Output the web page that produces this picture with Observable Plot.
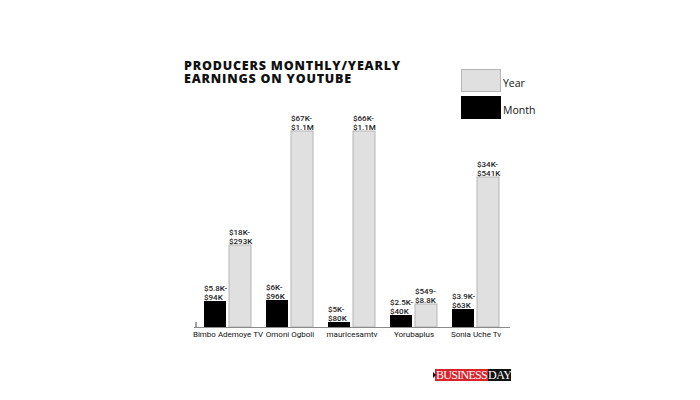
<!DOCTYPE html>
<html><head><meta charset="utf-8">
<script src="https://cdn.jsdelivr.net/npm/d3@7"></script>
<script src="https://cdn.jsdelivr.net/npm/@observablehq/plot@0.6"></script>
<style>
body{margin:0;background:#fff;}
#wrap{position:relative;width:700px;height:400px;overflow:hidden;background:#fff;}
#chart{position:absolute;left:0;top:0;}
.abs{position:absolute;white-space:nowrap;}
.title{left:184px;font-family:"Open Sans";font-weight:800;font-size:12.5px;line-height:12.5px;height:12.5px;color:#111;letter-spacing:0.8px;}
.sw{width:40px;height:23px;box-sizing:border-box;}
.lg{font-family:"Open Sans";font-size:10.5px;line-height:10.5px;color:#111;}
.logo{font-family:"Liberation Serif";font-size:12px;line-height:12px;color:#fff;height:12px;}
</style></head>
<body><div id="wrap">
<div id="chart"></div>
<div class="abs title" style="top:60px;">PRODUCERS MONTHLY/YEARLY</div>
<div class="abs title" style="top:73px;">EARNINGS ON YOUTUBE</div>
<div class="abs sw" style="left:461px;top:69px;background:#e0e0e0;border:1px solid #b5b5b5;"></div>
<div class="abs lg" style="left:503px;top:78px;">Year</div>
<div class="abs sw" style="left:461px;top:96px;background:#000;"></div>
<div class="abs lg" style="left:503px;top:105px;">Month</div>
<div class="abs logo" style="left:435px;top:369px;width:53px;background:#d9232a;text-align:center;letter-spacing:-0.7px;">BUSINESS</div>
<div class="abs logo" style="left:488px;top:369px;width:23px;background:#111;text-align:center;letter-spacing:-0.5px;">DAY</div>
<div class="abs" style="left:433px;top:372px;width:0;height:0;border-top:3px solid transparent;border-bottom:3px solid transparent;border-left:3px solid #111;"></div>
</div>
<script>
const channels = ["Bimbo Ademoye TV", "Omoni Ogboli", "mauricesamtv", "Yorubaplus", "Sonia Uche Tv"];
const monthLabels = ["$5.8K-\n$94K", "$6K-\n$96K", "$5K-\n$80K", "$2.5K-\n$40K", "$3.9K-\n$63K"];
const yearLabels = ["$18K-\n$293K", "$67K-\n$1.1M", "$66K-\n$1.1M", "$549-\n$8.8K", "$34K-\n$541K"];
// bar heights as drawn in the picture (relative units)
const monthBar = [26, 27, 5, 12, 18];
const yearBar = [82, 196, 196, 23, 150];

const monthData = channels.map((c, i) => ({channel: c, value: monthBar[i], label: monthLabels[i]}));
const yearData = channels.map((c, i) => ({channel: c, value: yearBar[i], label: yearLabels[i]}));

const labelStyle = {fontSize: 8, fontFamily: "Roboto", fontWeight: 500, fill: "#222", lineHeight: 1.05, textAnchor: "start", lineAnchor: "bottom"};

const chart = Plot.plot({
  width: 700,
  height: 400,
  marginLeft: 194,
  marginRight: 190,
  marginTop: 127,
  marginBottom: 73,
  style: {fontFamily: "Roboto", fontSize: "8px", color: "#111", background: "transparent"},
  x: {domain: channels, paddingInner: 15 / 63, paddingOuter: 0.127, label: null, tickSize: 0, tickPadding: 4},
  y: {domain: [0, 200], axis: null},
  marks: [
    Plot.barY(monthData, {x: "channel", y: "value", fill: "#000", insetRight: 25}),
    Plot.barY(yearData, {x: "channel", y: "value", fill: "#e0e0e0", stroke: "#b5b5b5", strokeWidth: 1, insetLeft: 25}),
    Plot.ruleY([0], {stroke: "#8a8a8a", strokeWidth: 1}),
    Plot.ruleX([channels[0]], {y1: 0, y2: 5, dx: -32, stroke: "#444"}),
    Plot.text(monthData, {x: "channel", y: "value", text: "label", dx: -24, dy: -2, ...labelStyle}),
    Plot.text(yearData, {x: "channel", y: "value", text: "label", dx: 1, dy: -2, ...labelStyle})
  ]
});
document.getElementById("chart").appendChild(chart);
</script>
</body></html>
